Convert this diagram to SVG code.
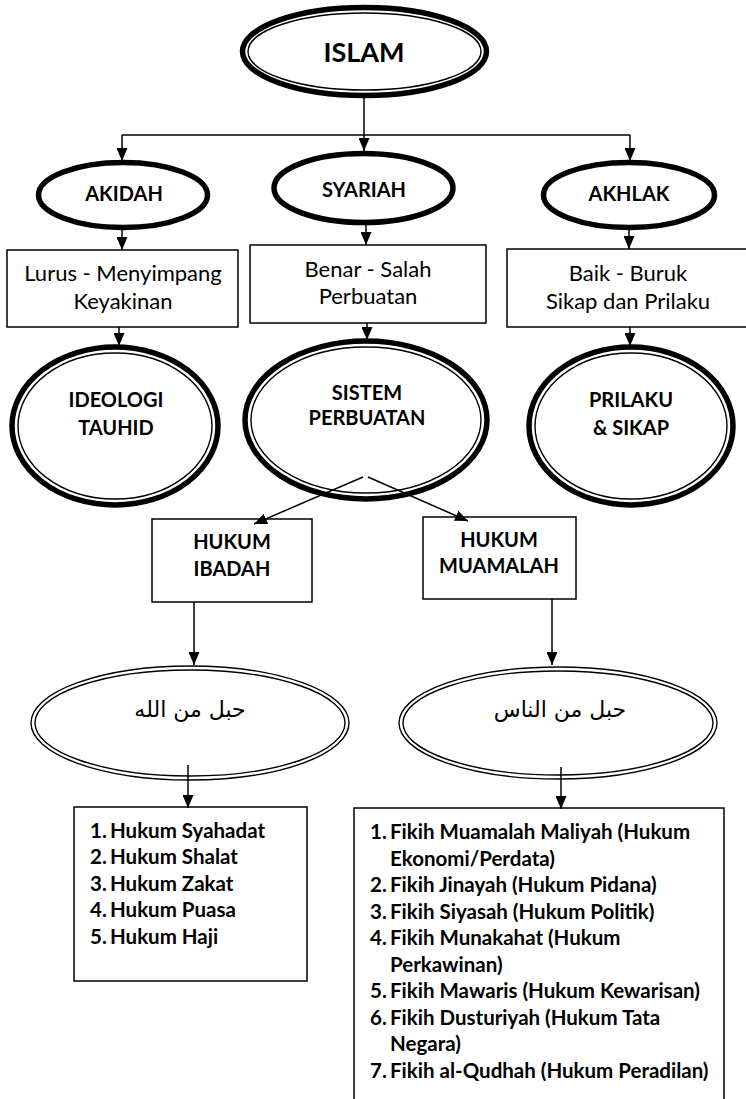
<svg xmlns="http://www.w3.org/2000/svg" width="746" height="1099" viewBox="0 0 746 1099">
  <style>
    .thick { fill: #fff; stroke: #000; stroke-width: 5.5; }
    .thin { fill: none; stroke: #000; stroke-width: 1.4; }
    .dbl { fill: #fff; stroke: #000; stroke-width: 1.4; }
    .box { fill: #fff; stroke: #000; stroke-width: 1.5; }
    .lbl { font-family: Lato, "Liberation Sans", sans-serif; font-weight: bold; font-size: 20px; text-anchor: middle; fill: #000; }
    .big { font-size: 27px; }
    .reg { font-family: Lato, "Liberation Sans", sans-serif; font-size: 22px; text-anchor: middle; fill: #000; }
    .list { font-family: Lato, "Liberation Sans", sans-serif; font-weight: bold; font-size: 20.5px; fill: #000; }
    .ar { font-family: "DejaVu Sans", "Noto Sans", sans-serif; font-size: 22px; text-anchor: middle; fill: #000; }
    .conn line, .conn path { stroke: #000; stroke-width: 1.5; fill: none; }
  </style>
  <defs>
    <marker id="arr" markerUnits="userSpaceOnUse" markerWidth="13" markerHeight="11" refX="13" refY="5.5" orient="auto">
      <path d="M0,0 L13,5.5 L0,11 Z" fill="#000"/>
    </marker>
  </defs>
  <rect width="746" height="1099" fill="#fff"/>

  <g id="islam">
    <ellipse class="thick" cx="364.5" cy="51.5" rx="122" ry="44"/>
    <ellipse class="thin" cx="364.5" cy="51.5" rx="116.5" ry="38.5"/>
    <text class="lbl big" x="364" y="62">ISLAM</text>
  </g>

  <g id="akidah">
    <ellipse class="thick" cx="123" cy="195" rx="84.5" ry="32.5"/>
    <text class="lbl" x="124" y="201">AKIDAH</text>
  </g>
  <g id="syariah">
    <ellipse class="thick" cx="363.5" cy="188" rx="89.5" ry="34.5"/>
    <text class="lbl" x="364" y="197">SYARIAH</text>
  </g>
  <g id="akhlak">
    <ellipse class="thick" cx="629" cy="195" rx="85.5" ry="32.5"/>
    <text class="lbl" x="629" y="201">AKHLAK</text>
  </g>

  <g id="lurus">
    <rect class="box" x="7" y="250" width="231" height="77"/>
    <text class="reg" x="123" y="281">Lurus - Menyimpang</text>
    <text class="reg" x="123" y="309">Keyakinan</text>
  </g>
  <g id="benar">
    <rect class="box" x="250" y="245" width="236" height="78"/>
    <text class="reg" x="368" y="277">Benar - Salah</text>
    <text class="reg" x="368" y="304">Perbuatan</text>
  </g>
  <g id="baik">
    <rect class="box" x="507" y="249" width="250" height="78"/>
    <text class="reg" x="628" y="281">Baik - Buruk</text>
    <text class="reg" x="628" y="309">Sikap dan Prilaku</text>
  </g>

  <g id="ideologi">
    <ellipse class="thick" cx="115" cy="426" rx="103" ry="79"/>
    <ellipse class="thin" cx="115" cy="426" rx="97" ry="73"/>
    <text class="lbl" x="116" y="407">IDEOLOGI</text>
    <text class="lbl" x="116" y="435">TAUHID</text>
  </g>
  <g id="sistem">
    <ellipse class="thick" cx="366" cy="420" rx="121" ry="79"/>
    <ellipse class="thin" cx="366" cy="420" rx="115" ry="73"/>
    <text class="lbl" x="367" y="400">SISTEM</text>
    <text class="lbl" x="367" y="425">PERBUATAN</text>
  </g>
  <g id="prilaku">
    <ellipse class="thick" cx="631" cy="426" rx="102" ry="79"/>
    <ellipse class="thin" cx="631" cy="426" rx="96" ry="73"/>
    <text class="lbl" x="631" y="407">PRILAKU</text>
    <text class="lbl" x="631" y="435">&amp; SIKAP</text>
  </g>

  <g id="ibadah">
    <rect class="box" x="152" y="519" width="160" height="83"/>
    <text class="lbl" x="232" y="549">HUKUM</text>
    <text class="lbl" x="232" y="576">IBADAH</text>
  </g>
  <g id="muamalah">
    <rect class="box" x="423" y="517" width="153" height="82"/>
    <text class="lbl" x="499" y="547">HUKUM</text>
    <text class="lbl" x="499" y="573">MUAMALAH</text>
  </g>

  <g id="hablallah">
    <ellipse class="dbl" cx="190" cy="723" rx="159" ry="57"/>
    <ellipse class="thin" cx="190" cy="723" rx="155" ry="53"/>
    <text class="ar" x="190" y="717" direction="rtl">حبل من الله</text>
  </g>
  <g id="hablannas">
    <ellipse class="dbl" cx="558" cy="723" rx="159" ry="56"/>
    <ellipse class="thin" cx="558" cy="723" rx="155" ry="52"/>
    <text class="ar" x="560" y="717" direction="rtl">حبل من الناس</text>
  </g>

  <g id="ibadah-list">
    <rect class="box" x="74" y="807" width="233" height="174"/>
    <text class="list" x="90" y="838">1.</text><text class="list" x="110" y="838">Hukum Syahadat</text>
    <text class="list" x="90" y="864.4">2.</text><text class="list" x="110" y="864.4">Hukum Shalat</text>
    <text class="list" x="90" y="890.8">3.</text><text class="list" x="110" y="890.8">Hukum Zakat</text>
    <text class="list" x="90" y="917.2">4.</text><text class="list" x="110" y="917.2">Hukum Puasa</text>
    <text class="list" x="90" y="943.6">5.</text><text class="list" x="110" y="943.6">Hukum Haji</text>
  </g>

  <g id="muamalah-list">
    <rect class="box" x="354" y="808" width="370" height="296"/>
    <text class="list" x="370" y="839">1.</text><text class="list" x="390" y="839">Fikih Muamalah Maliyah (Hukum</text>
    <text class="list" x="390" y="865.5">Ekonomi/Perdata)</text>
    <text class="list" x="370" y="892">2.</text><text class="list" x="390" y="892">Fikih Jinayah (Hukum Pidana)</text>
    <text class="list" x="370" y="918.5">3.</text><text class="list" x="390" y="918.5">Fikih Siyasah (Hukum Politik)</text>
    <text class="list" x="370" y="945">4.</text><text class="list" x="390" y="945">Fikih Munakahat (Hukum</text>
    <text class="list" x="390" y="971.5">Perkawinan)</text>
    <text class="list" x="370" y="998">5.</text><text class="list" x="390" y="998">Fikih Mawaris (Hukum Kewarisan)</text>
    <text class="list" x="370" y="1024.5">6.</text><text class="list" x="390" y="1024.5">Fikih Dusturiyah (Hukum Tata</text>
    <text class="list" x="390" y="1051">Negara)</text>
    <text class="list" x="370" y="1077.5">7.</text><text class="list" x="390" y="1077.5">Fikih al-Qudhah (Hukum Peradilan)</text>
  </g>

  <g id="connectors" class="conn">
    <line x1="364" y1="98" x2="364" y2="151" marker-end="url(#arr)"/>
    <line x1="122" y1="135" x2="630" y2="135"/>
    <line x1="122" y1="135" x2="122" y2="161" marker-end="url(#arr)"/>
    <line x1="630" y1="135" x2="630" y2="161" marker-end="url(#arr)"/>
    <line x1="122" y1="226" x2="122" y2="250" marker-end="url(#arr)"/>
    <line x1="366" y1="220" x2="366" y2="245" marker-end="url(#arr)"/>
    <line x1="629" y1="226" x2="629" y2="249" marker-end="url(#arr)"/>
    <line x1="119" y1="327" x2="119" y2="346" marker-end="url(#arr)"/>
    <line x1="367" y1="323" x2="367" y2="340" marker-end="url(#arr)"/>
    <line x1="630" y1="327" x2="630" y2="346" marker-end="url(#arr)"/>
    <line x1="363" y1="477" x2="254" y2="524" marker-end="url(#arr)"/>
    <line x1="368" y1="477" x2="468" y2="521" marker-end="url(#arr)"/>
    <line x1="194" y1="602" x2="194" y2="665" marker-end="url(#arr)"/>
    <line x1="552" y1="599" x2="552" y2="665" marker-end="url(#arr)"/>
    <line x1="188" y1="765" x2="188" y2="808" marker-end="url(#arr)"/>
    <line x1="561" y1="767" x2="561" y2="809" marker-end="url(#arr)"/>
  </g>
</svg>
